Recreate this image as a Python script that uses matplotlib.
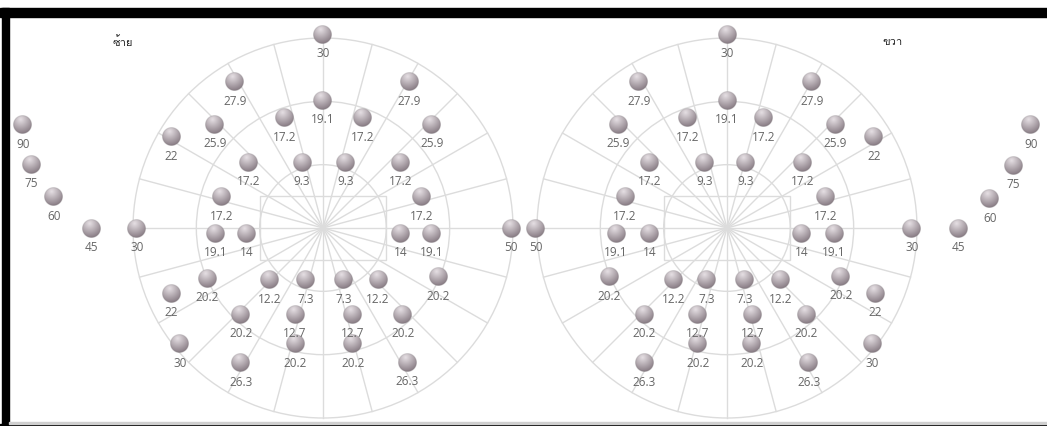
import numpy as np
import matplotlib
matplotlib.use('Agg')
import matplotlib.pyplot as plt
from matplotlib.patches import Circle, Rectangle
from matplotlib import font_manager, ft2font

# data: point positions in degrees from fixation (x right, y up) and their values
left_x = [0, 0, -13.9, -6.0, -17.1, -23.9, -11.8, -3.3, -16.0,
          -47.4, -46.0, -42.5, -36.5, -29.4,
          -16.9, -12.0, -18.3, -23.9, -8.4, -2.8, -13.0, -4.4, -22.6, -4.4, -13.0,
          13.6, 6.2, 17.2, 3.6, 12.2, 15.6, 12.2, 17.2, 29.7,
          3.2, 8.7, 18.2, 4.7, 12.6, 4.7, 13.3]
left_y = [30.6, 20.2, 23.1, 17.4, 16.4, 14.4, 10.4, 10.4, 4.9,
          16.3, 10.0, 4.9, 0, 0,
          -0.8, -0.8, -7.9, -10.3, -8.2, -8.2, -13.6, -13.6, -18.3, -18.3, -21.3,
          23.1, 17.4, 16.4, 10.4, 10.4, 4.9, -0.8, -0.8, 0,
          -8.2, -8.2, -7.7, -13.6, -13.6, -18.3, -21.2]
left_vals = [30, 19.1, 27.9, 17.2, 25.9, 22, 17.2, 9.3, 17.2,
             90, 75, 60, 45, 30,
             19.1, 14, 20.2, 22, 12.2, 7.3, 20.2, 12.7, 30, 20.2, 26.3,
             27.9, 17.2, 25.9, 9.3, 17.2, 17.2, 14, 19.1, 50,
             7.3, 12.2, 20.2, 12.7, 20.2, 20.2, 26.3]

right_x = [0, 0, -13.9, -6.2, -17.2, -12.2, -3.6, -16.1, -17.5, -12.2,
           -18.6, -8.5, -3.2, -13.1, -4.6, -4.6, -13.1, -30.2,
           13.4, 5.8, 17.1, 23.2, 3.0, 12.0, 15.5,
           48.0, 45.2, 41.5, 36.5, 29.2,
           11.8, 16.9, 2.8, 8.4, 18.0, 23.4, 4.1, 12.5, 3.9, 12.9, 22.9]
right_y = [30.6, 20.2, 23.1, 17.4, 16.4, 10.4, 10.4, 4.9, -0.8, -0.8,
           -7.7, -8.2, -8.2, -13.6, -13.6, -18.3, -21.3, 0,
           23.1, 17.4, 16.4, 14.4, 10.4, 10.4, 4.9,
           16.3, 9.9, 4.6, 0, 0,
           -0.8, -0.8, -8.2, -8.2, -7.6, -10.3, -13.6, -13.6, -18.3, -21.3, -18.3]
right_vals = [30, 19.1, 27.9, 17.2, 25.9, 17.2, 9.3, 17.2, 19.1, 14,
              20.2, 12.2, 7.3, 20.2, 12.7, 20.2, 26.3, 50,
              27.9, 17.2, 25.9, 22, 9.3, 17.2, 17.2,
              90, 75, 60, 45, 30,
              14, 19.1, 7.3, 12.2, 20.2, 22, 12.7, 20.2, 20.2, 26.3, 30]

titles = ['ซ้าย', 'ขวา']
rings = [10, 20, 30]

# find a font that can draw Thai
thai_font = None
for f in font_manager.fontManager.ttflist:
    try:
        if ord('ข') in ft2font.FT2Font(f.fname).get_charmap():
            thai_font = f.name
            break
    except Exception:
        pass
title_family = [thai_font, 'DejaVu Sans'] if thai_font else ['DejaVu Sans']

W, H = 1047, 426
scale = 190 / 30.0          # pixels per degree
cx_left_px, cx_right_px, cy_px = 323, 727, 228
grid_col = '#dcdcdc'

# shaded ball image
n = 48
u, v = np.meshgrid(np.linspace(-1, 1, n), np.linspace(-1, 1, n))
r = np.sqrt(u ** 2 + v ** 2)
d = np.sqrt((u + 0.2) ** 2 + (v - 0.55) ** 2)
t = np.clip(d / 1.5, 0, 1)
light = np.array([230, 224, 228]) / 255
dark = np.array([138, 126, 134]) / 255
ball = np.zeros((n, n, 4))
for k in range(3):
    ball[..., k] = light[k] * (1 - t) + dark[k] * t
rim = np.clip((r - 0.88) / 0.12, 0, 1)
for k in range(3):
    ball[..., k] = ball[..., k] * (1 - 0.2 * rim)
ball[..., 3] = np.clip((1 - r) * n / 2, 0, 1)
R = 1.5

fig = plt.figure(figsize=(W / 100, H / 100), dpi=100)
ax = fig.add_axes([0, 0, 1, 1])
ax.axis('off')


def draw_eye(cx, xs, ys, vals, title, tx):
    for rad in rings:
        ax.add_patch(Circle((cx, 0), rad, fill=False, ec=grid_col, lw=1.0, zorder=1))
    ax.add_patch(Rectangle((cx - 10, -5), 20, 10, fill=False, ec=grid_col, lw=1.0, zorder=1))
    for a in np.arange(0, 360, 15):
        th = np.radians(a)
        ax.plot([cx, cx + 30 * np.cos(th)], [0, 30 * np.sin(th)], color=grid_col, lw=1.0, zorder=1)
    for x, y, val in zip(xs, ys, vals):
        ax.imshow(ball, extent=(cx + x - R, cx + x + R, y - R, y + R), origin='lower',
                  interpolation='bilinear', zorder=3)
        ax.text(cx + x, y - 3.6, '%g' % val, ha='center', va='baseline', fontsize=8.5,
                family='Open Sans', color='#666666', zorder=4)
    ax.text(cx + tx, 29.4, title, ha='center', va='center', fontsize=8,
            family=title_family, color='#222222', zorder=4)


draw_eye(0, left_x, left_y, left_vals, titles[0], -31.6)
draw_eye((cx_right_px - cx_left_px) / scale, right_x, right_y, right_vals, titles[1], 26.2)

ax.set_aspect('auto')
ax.set_xlim(-cx_left_px / scale, (W - cx_left_px) / scale)
ax.set_ylim(-(H - cy_px) / scale, cy_px / scale)

# frame of the screenshot
fig.add_artist(Rectangle((0, 409.3 / H), 1, 8.4 / H, color='black', transform=fig.transFigure))
fig.add_artist(Rectangle((2 / W, 0), 7 / W, 417.7 / H, color='black', transform=fig.transFigure))
fig.add_artist(Rectangle((0, 0), 1, 2 / H, color='black', transform=fig.transFigure))
fig.add_artist(Rectangle((9 / W, 2 / H), 1, 2.3 / H, color='#cfcfcf', transform=fig.transFigure))

fig.savefig('out.png', dpi=100, facecolor='white')
